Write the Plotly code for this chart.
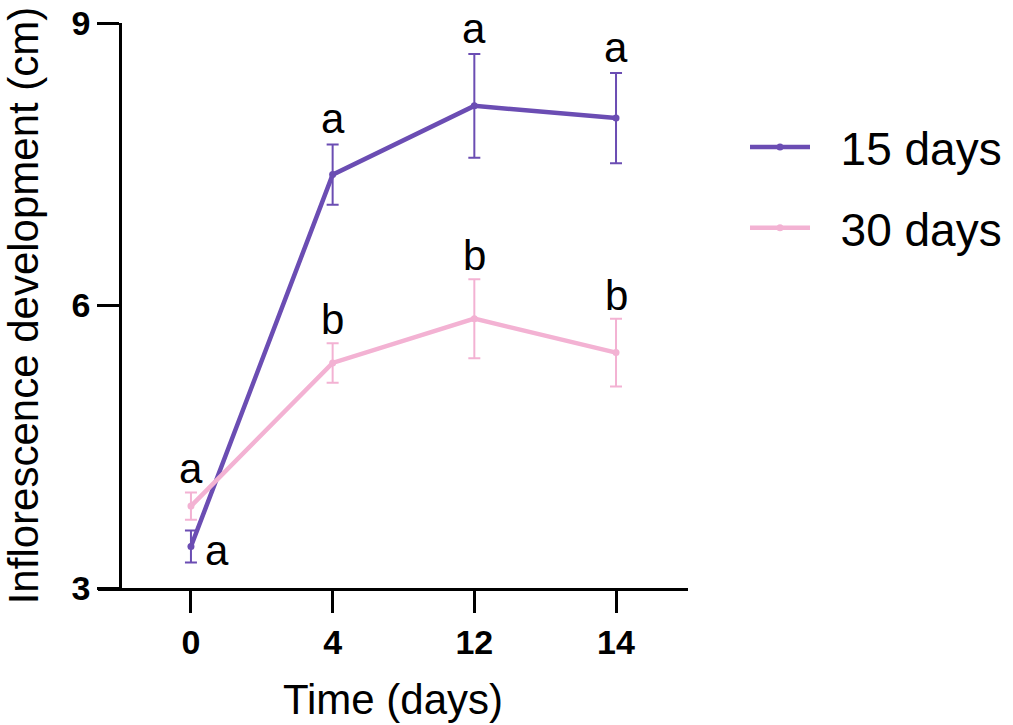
import plotly.graph_objects as go

# ---- data ----
days = ["0", "4", "12", "14"]
mean_15 = [3.44, 7.39, 8.12, 7.99]
err_15 = [0.17, 0.32, 0.55, 0.48]
mean_30 = [3.87, 5.39, 5.86, 5.50]
err_30 = [0.145, 0.21, 0.42, 0.36]
letters_15 = ["a", "a", "a", "a"]
letters_30 = ["a", "b", "b", "b"]
series_names = ["15 days", "30 days"]
y_ticks = [3, 6, 9]

PURPLE = "#6b4db3"
PINK = "#f3b2d3"
FONT = "Arial, Liberation Sans, Helvetica, sans-serif"
NBSP = "\u00a0"

fig = go.Figure()
for name, m, e, c, grp in [(series_names[0], mean_15, err_15, PURPLE, "g1"),
                           (series_names[1], mean_30, err_30, PINK, "g2")]:
    fig.add_trace(go.Scatter(
        x=days, y=m, name=NBSP * 2 + name, legendgroup=grp,
        mode="lines+markers",
        line=dict(color=c, width=4.5),
        marker=dict(color=c, size=7),
        error_y=dict(type="data", array=e, visible=True, color=c, thickness=2, width=6),
    ))

# significance letters (x given as category index)
afont = dict(family=FONT, size=42, color="black")
annos = []
for i, d in enumerate(days):
    annos.append(dict(x=i, y=mean_30[i] + err_30[i], text=letters_30[i], showarrow=False,
                      yanchor="bottom", xanchor="center", yshift=-2, font=afont))
    if i == 0:
        annos.append(dict(x=i, y=mean_15[i], text=letters_15[i], showarrow=False,
                          yanchor="middle", xanchor="left", xshift=12, yshift=-4, font=afont))
    else:
        annos.append(dict(x=i, y=mean_15[i] + err_15[i], text=letters_15[i], showarrow=False,
                          yanchor="bottom", xanchor="center", yshift=0, font=afont))

L, R, T, B = 98, 688, 23, 588
W, H = 1013, 725
pw = R - L

fig.update_layout(
    width=W, height=H,
    margin=dict(l=L, r=W - R, t=T, b=H - B, pad=0, autoexpand=False),
    paper_bgcolor="white", plot_bgcolor="white",
    font=dict(family=FONT, color="black"),
    annotations=annos,
    showlegend=True,
    legend=dict(x=(745 - L) / pw, y=0.845, xanchor="left", yanchor="top",
                font=dict(family=FONT, size=46, color="black"),
                itemwidth=60, tracegroupgap=18, bgcolor="rgba(0,0,0,0)"),
    xaxis=dict(
        type="category", range=[-0.656, 3.508], automargin=False,
        showline=True, linecolor="black", linewidth=2.5,
        ticks="outside", ticklen=22, tickwidth=2.5, tickcolor="black",
        tickfont=dict(family=FONT, size=34, color="black", weight="bold"),
        showgrid=False, zeroline=False,
        title=dict(text="Time (days)", font=dict(family=FONT, size=42, color="black"), standoff=26),
    ),
    yaxis=dict(
        range=[3, 9], tickvals=y_ticks, automargin=False,
        anchor="free", position=(120 - L) / pw,
        showline=True, linecolor="black", linewidth=2.5,
        ticks="outside", ticklen=22, tickwidth=2.5, tickcolor="black",
        tickfont=dict(family=FONT, size=34, color="black", weight="bold"),
        showgrid=False, zeroline=False,
        title=dict(text="Inflorescence development (cm)", font=dict(family=FONT, size=42, color="black"), standoff=18),
    ),
)

fig.write_html("out.html", config={"displayModeBar": False},
               post_script="document.body.style.margin='0px';")
